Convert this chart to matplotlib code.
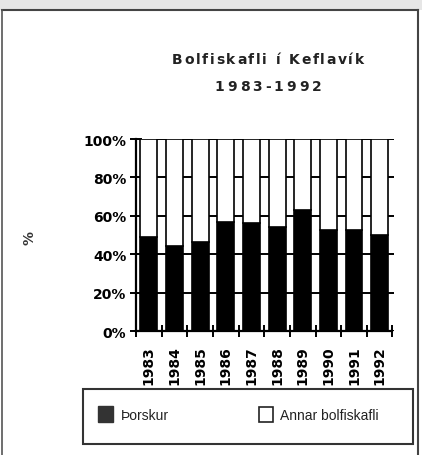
import matplotlib
matplotlib.use("Agg")
import matplotlib.pyplot as plt
from matplotlib.patches import Rectangle
from matplotlib.lines import Line2D
import numpy as np

years = ["1983", "1984", "1985", "1986", "1987", "1988", "1989", "1990", "1991", "1992"]
thorskur = [49, 44.5, 46.5, 57, 56, 54, 63, 52.5, 52.5, 50]
annar = [100 - v for v in thorskur]
y_ticks = [0, 20, 40, 60, 80, 100]
y_tick_labels = ["0%", "20%", "40%", "60%", "80%", "100%"]
title_line1 = "Bolfiskafli í Keflavík"
title_line2 = "1983-1992"
legend_labels = ["Þorskur", "Annar bolfiskafli"]

W, H = 422, 456
fig = plt.figure(figsize=(W / 100, H / 100), dpi=100)
fig.patch.set_facecolor("white")

def fx(px):
    return px / W

def fy(py):
    return 1 - py / H

renderer = fig.canvas.get_renderer()

def spaced_text(cx_px, cy_px, s, spacing_px, **kw):
    # measure each char, then place with extra letter spacing, centered on cx
    widths = []
    for ch in s:
        t = fig.text(0, 0, ch if ch != " " else "a", **kw)
        bb = t.get_window_extent(renderer)
        widths.append(bb.width if ch != " " else bb.width * 0.55)
        t.remove()
    total = sum(widths) + spacing_px * (len(s) - 1)
    x0 = cx_px - total / 2
    for ch, w in zip(s, widths):
        if ch != " ":
            fig.text(fx(x0), fy(cy_px), ch, ha="left", va="center", **kw)
        x0 += w + spacing_px

# outer frame
fig.add_artist(Rectangle((0, fy(11)), 1, 1 - fy(11), transform=fig.transFigure,
                         facecolor="#e6e6e6", edgecolor="none", zorder=0))
fig.add_artist(Line2D([fx(2), fx(418)], [fy(11), fy(11)], transform=fig.transFigure,
                      color="#444444", lw=1.5))
fig.add_artist(Line2D([fx(2), fx(2)], [fy(11), 0], transform=fig.transFigure,
                      color="#555555", lw=1.2))
fig.add_artist(Line2D([fx(418), fx(418)], [fy(11), 0], transform=fig.transFigure,
                      color="#444444", lw=1.5))

ax = fig.add_axes([fx(136), fy(332), fx(394) - fx(136), fy(140) - fy(332)])
x = np.arange(len(years))
ax.set_axisbelow(True)
ax.yaxis.grid(True, color="black", lw=1.4)
ax.bar(x, thorskur, width=0.66, color="black", edgecolor="black", lw=1.2, zorder=3)
ax.bar(x, annar, bottom=thorskur, width=0.66, color="white", edgecolor="black", lw=1.2, zorder=3)

ax.set_xlim(-0.5, len(years) - 0.5 + 0.06)
ax.set_ylim(0, 100)
ax.set_yticks(y_ticks)
ax.set_yticklabels(y_tick_labels, fontsize=10, fontweight="bold", family="DejaVu Sans")
ax.set_xticks(x)
ax.set_xticklabels(years, rotation=90, fontsize=10, fontweight="bold", family="DejaVu Sans")
ax.tick_params(axis="x", length=0, pad=10)
ax.set_xticks(np.arange(-0.5, len(years)), minor=True)
ax.tick_params(axis="x", which="minor", direction="inout", length=8, width=1.4)
ax.tick_params(axis="y", direction="inout", length=8, width=1.4, pad=3)
for s in ["top", "right"]:
    ax.spines[s].set_visible(False)
ax.spines["left"].set_linewidth(1.6)
ax.spines["bottom"].set_linewidth(1.6)
ax.spines["bottom"].set_bounds(-0.5, len(years) - 0.5)

fig.text(fx(30), fy(238), "%", rotation=90, fontsize=10, color="#333333",
         ha="center", va="center", fontweight="bold")

# title (letter-spaced as in the original)
spaced_text(268, 60, title_line1, 1.7, fontsize=10, fontweight="bold",
            family="DejaVu Sans", color="#222222")
spaced_text(268, 87, title_line2, 3.0, fontsize=10, fontweight="bold",
            family="DejaVu Sans", color="#222222")

# legend box
fig.add_artist(Rectangle((fx(83), fy(445)), fx(413) - fx(83), fy(390) - fy(445),
                         transform=fig.transFigure, facecolor="none",
                         edgecolor="#333333", lw=1.5))
fig.add_artist(Rectangle((fx(98), fy(423)), fx(113) - fx(98), fy(407) - fy(423),
                         transform=fig.transFigure, facecolor="#333333",
                         edgecolor="#333333", lw=1))
fig.text(fx(121), fy(416), legend_labels[0], ha="left", va="center", fontsize=10,
         family="Liberation Sans", color="#222222")
fig.add_artist(Rectangle((fx(259), fy(423)), fx(273) - fx(259), fy(408) - fy(423),
                         transform=fig.transFigure, facecolor="white",
                         edgecolor="#222222", lw=1.2))
fig.text(fx(280), fy(416), legend_labels[1], ha="left", va="center", fontsize=10,
         family="Liberation Sans", color="#222222")

fig.savefig("out.png", dpi=100)
